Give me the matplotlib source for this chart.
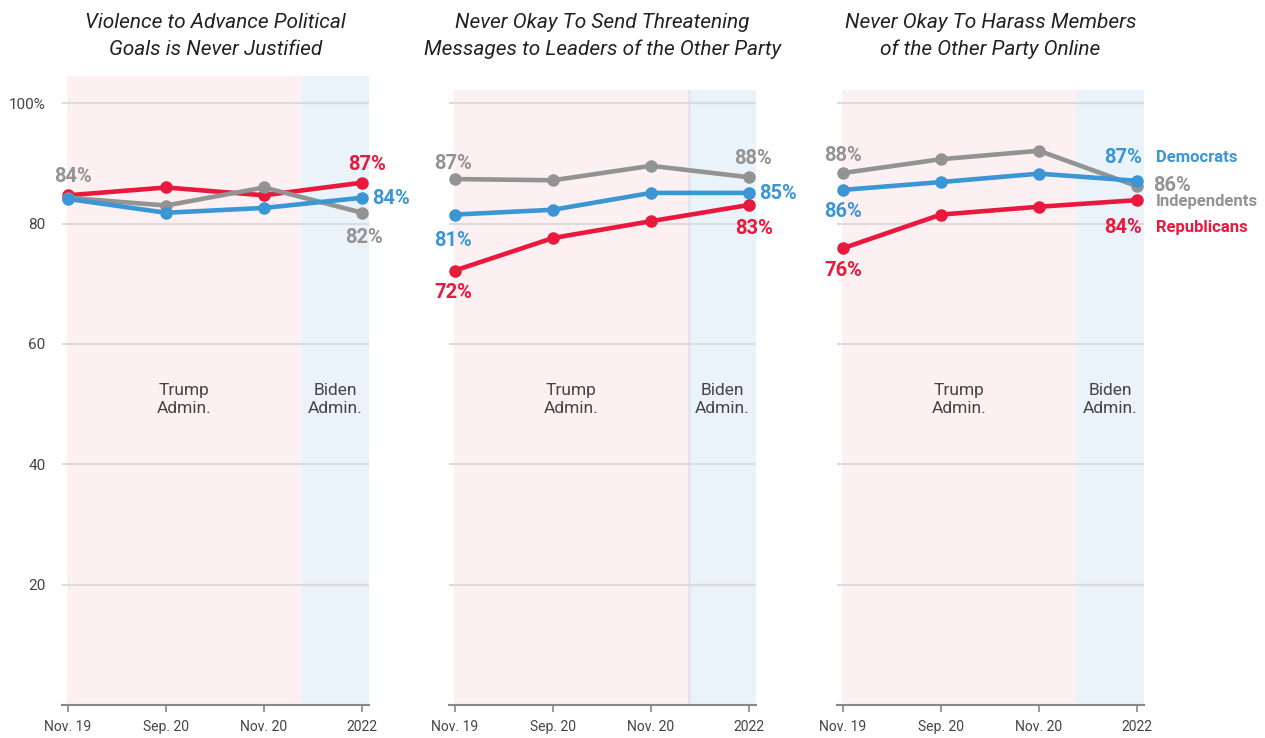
import matplotlib.pyplot as plt
from matplotlib.patches import Rectangle

plt.rcParams['font.family'] = ['Liberation Sans Narrow', 'Roboto', 'DejaVu Sans']

periods = ["Nov. 19", "Sep. 20", "Nov. 20", "2022"]
titles = ["Violence to Advance Political\nGoals is Never Justified",
          "Never Okay To Send Threatening\nMessages to Leaders of the Other Party",
          "Never Okay To Harass Members\nof the Other Party Online"]

# values (percent)
rep = [[84.7, 86.0, 84.7, 86.8],
       [72.2, 77.6, 80.4, 83.1],
       [75.9, 81.5, 82.8, 83.9]]
dem = [[84.1, 81.8, 82.6, 84.3],
       [81.5, 82.3, 85.1, 85.1],
       [85.6, 86.9, 88.3, 87.1]]
ind = [[84.3, 83.0, 86.0, 81.8],
       [87.4, 87.2, 89.6, 87.7],
       [88.4, 90.7, 92.1, 86.2]]

# labelled values shown as text
rep_lbl = [[None, None, None, "87%"], ["72%", None, None, "83%"], ["76%", None, None, "84%"]]
dem_lbl = [[None, None, None, "84%"], ["81%", None, None, "85%"], ["86%", None, None, "87%"]]
ind_lbl = [["84%", None, None, "82%"], ["87%", None, None, "88%"], ["88%", None, None, "86%"]]

RED = '#e8193c'
BLUE = '#3a96d4'
GRAY = '#939393'
PINK = '#fcf0f3'
LBLUE = '#eaf2fa'

# label offsets in pixels: (dx, dy, ha)
offsets = {
    0: {('ind', 0): (5, 21, 'center'), ('rep', 3): (5, 18, 'center'),
        ('dem', 3): (10, -1, 'left'), ('ind', 3): (2, -25, 'center')},
    1: {('ind', 0): (-2, 16, 'center'), ('dem', 0): (-2, -26, 'center'),
        ('rep', 0): (-2, -22, 'center'), ('ind', 3): (4, 19, 'center'),
        ('dem', 3): (10, -1, 'left'), ('rep', 3): (5, -24, 'center')},
    2: {('ind', 0): (0, 18, 'center'), ('dem', 0): (0, -22, 'center'),
        ('rep', 0): (0, -22, 'center'), ('dem', 3): (-14, 23, 'center'),
        ('ind', 3): (16, 1, 'left'), ('rep', 3): (-14, -27, 'center')},
}

W, H = 1265, 738
fig = plt.figure(figsize=(W / 100, H / 100), dpi=100)
lefts = [62, 449, 837]
x = list(range(len(periods)))
split = 2.38

for p in range(3):
    ax = fig.add_axes([lefts[p] / W, 1 - 705 / H, 307 / W, 615 / H])
    ax.set_xlim(-0.06, 3.07)
    ax.set_ylim(0, 102.2)
    top = 1.0 if p > 0 else 1.022
    ax.add_patch(Rectangle((-0.013, 0), split + 0.013, top, transform=ax.get_xaxis_transform(),
                           color=PINK, lw=0, zorder=0, clip_on=False))
    ax.add_patch(Rectangle((split, 0), 3.07 - split, top, transform=ax.get_xaxis_transform(),
                           color=LBLUE, lw=0, zorder=0, clip_on=False))
    if p == 1:
        ax.axvline(split + 0.005, color='#e4e4ec', lw=2, zorder=0.5)
    for g in [20, 40, 60, 80, 100]:
        ax.axhline(g, color='#dcdcdc', lw=1.5, zorder=1)

    series = [('ind', ind[p], ind_lbl[p], GRAY),
              ('dem', dem[p], dem_lbl[p], BLUE),
              ('rep', rep[p], rep_lbl[p], RED)]
    if p == 0:
        series = [series[2], series[0], series[1]]
    for name, vals, lbls, col in series:
        ax.plot(x, vals, color=col, lw=3.3, marker='o', ms=8, zorder=3,
                solid_capstyle='round')
        for i, t in enumerate(lbls):
            if t is None:
                continue
            dx, dy, ha = offsets[p][(name, i)]
            ax.annotate(t, (i, vals[i]), xytext=(dx, dy), textcoords='offset pixels',
                        ha=ha, va='center', color=col, fontsize=14.5,
                        fontweight='bold', zorder=4)

    if p == 2:
        for name, vals, col, lab, dy in [('dem', dem[p], BLUE, 'Democrats', 23),
                                         ('ind', ind[p], GRAY, 'Independents', -15),
                                         ('rep', rep[p], RED, 'Republicans', -27)]:
            ax.annotate(lab, (3, vals[3]), xytext=(19, dy), textcoords='offset pixels',
                        ha='left', va='center', color=col, fontsize=12,
                        fontweight='bold', annotation_clip=False)

    ax.text((split - 0.013) / 2, 50.8, "Trump\nAdmin.", ha='center', va='center',
            fontsize=12.5, color='#444444', linespacing=1.3)
    ax.text((split + 3.07) / 2, 50.8, "Biden\nAdmin.", ha='center', va='center',
            fontsize=12.5, color='#444444', linespacing=1.3)

    ax.text(0.5, 1.088, titles[p], transform=ax.transAxes, ha='center', va='center',
            fontsize=15, style='italic', color='#222222', linespacing=1.5)

    for s in ['top', 'right', 'left']:
        ax.spines[s].set_visible(False)
    ax.spines['bottom'].set_color('#888888')
    ax.spines['bottom'].set_linewidth(1.5)
    ax.set_xticks(x)
    ax.set_xticklabels(periods, fontsize=10, color='#444444')
    ax.tick_params(axis='x', length=5, width=1.2, color='#888888', pad=6)
    ax.set_yticks([20, 40, 60, 80, 100])
    if p == 0:
        ax.set_yticklabels(['20', '40', '60', '80', '100%'], fontsize=11, color='#444444')
        ax.tick_params(axis='y', length=0, pad=12)
    else:
        ax.tick_params(axis='y', length=0, labelleft=False)

fig.savefig('out.png', dpi=100)
